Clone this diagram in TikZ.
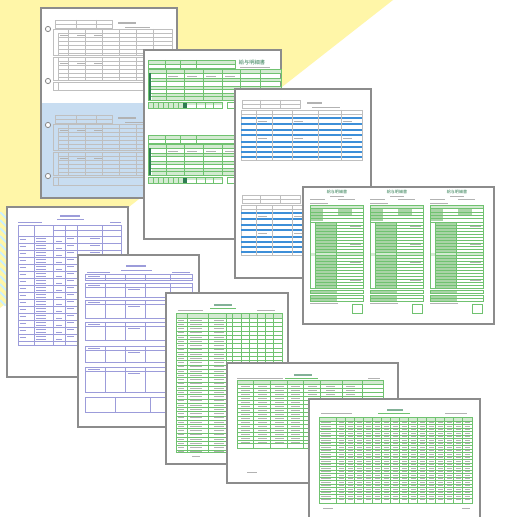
\documentclass[tikz,border=0pt]{standalone}
\usepackage{fontspec}
\newfontfamily\cjk{Noto Sans CJK JP}
\definecolor{amarillo}{HTML}{FFF6A8}
\definecolor{celeste}{HTML}{C8DDF1}
\definecolor{azul}{HTML}{3D8FD8}
\definecolor{verdeclaro}{HTML}{D3EAD1}
\definecolor{verde}{HTML}{A9D4A6}
\definecolor{verdeosc}{HTML}{2F7D52}
\definecolor{lila}{HTML}{9C9CDA}
\definecolor{borde}{HTML}{8C8C8C}
\tikzset{
  hoja/.style={fill=white, draw=borde, line width=0.75pt},
  regla/.style={draw=gray!50, line width=0.15pt},
  rverde/.style={draw=green!40!gray!80, line width=0.15pt},
  rlila/.style={draw=lila, line width=0.2pt},
  dato/.style={draw=gray!60, line width=0.35pt},
  titulo/.style={inner sep=0pt, text=verdeosc},
}
\begin{document}
\begin{tikzpicture}[x=0.02cm,y=-0.02cm]
  \useasboundingbox (0,0) rectangle (509,517);
  % Fondo
  \fill[white] (0,0) rectangle (509,517);
  \fill[amarillo] (0,0) -- (393,0) -- (0,308) -- cycle;
  \begin{scope}
    \clip (0,212) rectangle (8,305);
    \foreach \y in {196,204,...,300} \draw[cyan!20, line width=1.1pt] (0,\y) -- (14,\y+14);
  \end{scope}

  % Primera hoja (dos formularios, uno azul)
  \draw[hoja] (41,8) rectangle (177,198);
  \fill[celeste] (41,103) rectangle (177,198);
  \draw[borde, line width=0.75pt] (41,8) rectangle (177,198);
  \foreach \y in {29,81,125,176} \draw[borde, fill=white, line width=0.5pt] (48,\y) circle (2.6);
  \foreach \d in {0,95} {
    \begin{scope}[shift={(0,\d)}]
      \draw[regla] (55,20) rectangle (112,28);
      \draw[regla] (55,24) -- (112,24) (76,20) -- (76,28) (96,20) -- (96,28);
      \draw[dato, line width=0.6pt] (118,23) -- (136,23);
      \draw[dato] (125,27) -- (150,27);
      % Tablas
      \draw[regla] (53,29) rectangle (172,55);
      \foreach \y in {33,37,...,53} \draw[regla] (58,\y) -- (172,\y);
      \foreach \x in {68,85,102,119,136,153} \draw[regla] (\x,29) -- (\x,55);
      \draw[regla] (58,33) -- (58,55);
      \draw[regla] (53,57) rectangle (172,80);
      \foreach \y in {61,65,...,77} \draw[regla] (58,\y) -- (172,\y);
      \foreach \x in {68,85,102,119,136,153} \draw[regla] (\x,57) -- (\x,80);
      \draw[regla] (58,57) -- (58,80);
      \draw[regla] (53,82) rectangle (172,90);
      \draw[regla] (58,82) -- (58,90);
      \foreach \x in {60,77,94} {
        \draw[dato] (\x,35) -- (\x+8,35);
        \draw[dato] (\x,63) -- (\x+8,63);
      }
    \end{scope}
  }

  % Segunda hoja (verde)
  \draw[hoja] (144,50) rectangle (281,239);
  \node[titulo, font=\cjk\fontsize{3}{3}\selectfont] (tituloB) at (252,63) {給与明細書};
  \draw[dato] (240,67) -- (270,67);
  \foreach \d in {0,75} {
    \begin{scope}[shift={(0,\d)}]
      \fill[verdeclaro] (148,60) rectangle (235,64);
      \draw[rverde] (148,60) rectangle (235,68);
      \draw[rverde] (148,64) -- (235,64);
      \foreach \x in {165,180,196} \draw[rverde] (\x,60) -- (\x,68);
      \fill[verdeclaro] (148,69) rectangle (281,73);
      \fill[verdeclaro] (152,78) rectangle (281,81);
      \fill[verdeclaro] (148,86) rectangle (281,89);
      \fill[verdeclaro] (152,93) rectangle (281,100);
      \fill[verdeosc] (148,73) rectangle (151,100);
      \draw[rverde] (148,69) rectangle (281,100);
      \foreach \y in {73,78,81,86,89,93,96.5} \draw[rverde] (151,\y) -- (281,\y);
      \foreach \x in {166,184,203,222,240,260} \draw[rverde] (\x,69) -- (\x,100);
      \fill[verdeclaro] (148,102) rectangle (183,108);
      \fill[verdeosc] (183,102) rectangle (187,108);
      \fill[verdeclaro] (187,102) rectangle (222,105);
      \draw[rverde] (148,102) rectangle (222,108);
      \foreach \x in {153,158,163,168,173,178,196,205,213} \draw[rverde] (\x,102) -- (\x,108);
      \draw[rverde] (227,102) rectangle (235,108);
      \foreach \x in {168,187,206,225} \draw[dato] (\x,76) -- (\x+10,76);
    \end{scope}
  }

  % Tercera hoja (franjas azules)
  \draw[hoja] (235,89) rectangle (371,278);
  \foreach \d in {0,95} {
    \begin{scope}[shift={(0,\d)}]
      \draw[regla] (242,100) rectangle (300,108);
      \draw[regla] (242,104) -- (300,104) (260,100) -- (260,108) (280,100) -- (280,108);
      \draw[dato, line width=0.6pt] (307,103) -- (322,103);
      \draw[dato] (312,107) -- (340,107);
      \draw[regla] (241,110) rectangle (362,160);
      \draw[regla] (241,114) -- (362,114);
      \foreach \y in {117,123,129,134,141,146,151,156} \fill[azul] (241,\y) rectangle (362,\y+2);
      \foreach \x in {256,272,292,318,341} \draw[regla] (\x,110) -- (\x,160);
      \foreach \x in {258,294,343} {
        \draw[dato] (\x,121) -- (\x+9,121);
        \draw[dato] (\x,138) -- (\x+9,138);
      }
    \end{scope}
  }

  % Cuarta hoja (tres recibos)
  \draw[hoja] (303,187) rectangle (494,324);
  \foreach \c/\n in {310/1,370/2,430/3} {
    \begin{scope}[shift={(\c,0)}]
      \node[titulo, font=\cjk\fontsize{2.3}{2.3}\selectfont] (tituloD\n) at (27,192) {給与明細書};
      \draw[dato] (20,196) -- (34,196);
      \draw[dato] (0,199.5) -- (15,199.5) (28,199.5) -- (45,199.5) (0,203) -- (18,203);
      \fill[verdeclaro] (0,205) rectangle (53,208.5);
      \fill[verde] (0,209) rectangle (13,221);
      \fill[verde] (28,209) rectangle (42,216);
      \draw[rverde] (0,205) rectangle (53,222);
      \foreach \y in {208.5,212,215,218} \draw[rverde] (0,\y) -- (53,\y);
      \fill[verde] (5,222) rectangle (26,288);
      \fill[verdeclaro] (0,253) rectangle (53,256);
      \draw[rverde] (0,222) rectangle (53,288);
      \foreach \y in {225,228,...,286} \draw[rverde] (5,\y) -- (53,\y);
      \draw[rverde] (5,222) -- (5,288) (26,222) -- (26,288);
      \foreach \y in {226,244,262,280} \draw[dato] (40,\y) -- (51,\y);
      \foreach \y in {290,295,298.5} {
        \fill[verde] (0,\y) rectangle (27,\y+3);
        \draw[rverde] (0,\y) rectangle (53,\y+3);
      }
      \draw[dato] (0,303) -- (28,303);
      \draw[rverde] (42,304) rectangle (52,313);
    \end{scope}
  }

  % Quinta hoja (lista)
  \draw[hoja] (7,207) rectangle (128,377);
  \draw[lila, line width=0.8pt] (60,216) -- (80,216);
  \draw[rlila] (57,219.5) -- (84,219.5);
  \draw[rlila, line width=0.5pt] (18,222) -- (42,222) (110,222) -- (121,222);
  \draw[rlila] (18,225) rectangle (121,345);
  \draw[rlila] (53,230) -- (121,230) (18,236) -- (121,236);
  \foreach \y in {243,250,...,341} {
    \draw[rlila] (18,\y) -- (121,\y);
    \draw[rlila, line width=0.5pt] (36,\y-4.8) -- (46,\y-4.8) (36,\y-2) -- (46,\y-2);
    \draw[rlila, line width=0.5pt] (20,\y-4) -- (26,\y-4) (56,\y-2) -- (62,\y-2);
    \draw[rlila, line width=0.5pt] (67,\y-4.8) -- (74,\y-4.8) (90,\y-4.8) -- (100,\y-4.8);
  }
  \foreach \x in {34,53,65,77,102} \draw[rlila] (\x,225) -- (\x,345);

  % Sexta hoja (formulario lila)
  \draw[hoja] (78,255) rectangle (199,427);
  \draw[lila, line width=0.8pt] (126,266) -- (146,266);
  \draw[rlila] (121,270) -- (152,270);
  \draw[rlila, line width=0.5pt] (87,272) -- (110,272) (172,272) -- (190,272);
  \foreach \a/\b in {274/280, 283/297, 300/318, 322/340, 346/362, 367/392} {
    \draw[rlila] (85,\a) rectangle (192,\b);
    \draw[rlila] (85,\a+4) -- (192,\a+4);
    \foreach \x in {105,125,145,170} \draw[rlila] (\x,\a) -- (\x,\b);
    \draw[rlila, line width=0.5pt] (88,\a+2) -- (100,\a+2) (128,\a+6.5) -- (140,\a+6.5);
  }
  \draw[rlila] (85,397) rectangle (192,412);
  \draw[rlila] (115,397) -- (115,412) (150,397) -- (150,412);

  % Septima hoja (tabla verde)
  \draw[hoja] (166,293) rectangle (288,464);
  \draw[verdeosc!60, line width=0.8pt] (214,305) -- (232,305);
  \draw[rverde] (210,308) -- (236,308);
  \draw[dato] (178,310) -- (203,310) (257,310) -- (275,310);
  \fill[verdeclaro] (176,313) rectangle (282,318);
  \draw[rverde] (176,313) rectangle (282,452);
  \foreach \y in {318,322.25,...,450} {
    \draw[rverde] (176,\y) -- (282,\y);
    \draw[dato] (178,\y+2) -- (184,\y+2) (190,\y+2) -- (202,\y+2) (214,\y+2) -- (224,\y+2);
  }
  \foreach \x in {187,208,226,232,241,249,257,265,273} \draw[rverde] (\x,313) -- (\x,452);
  \draw[dato] (192,456) -- (200,456);

  % Octava hoja (tabla)
  \draw[hoja] (227,363) rectangle (398,483);
  \draw[verdeosc!60, line width=0.8pt] (294,375) -- (312,375);
  \draw[rverde] (285,378) -- (318,378);
  \draw[dato] (237,378) -- (283,378) (368,378) -- (380,378);
  \fill[verdeclaro] (237,380) rectangle (383,384);
  \draw[rverde] (237,380) rectangle (383,448);
  \foreach \y in {384,388,...,440} {
    \draw[rverde] (237,\y) -- (383,\y);
    \foreach \x in {241,258,275,291,308,326,346} \draw[dato] (\x,\y+2) -- (\x+9,\y+2);
  }
  \draw[rverde] (237,443) -- (383,443);
  \foreach \x in {253,270,287,303,320,342,362} \draw[rverde] (\x,380) -- (\x,448);
  \draw[dato] (247,472) -- (257,472);

  % Novena hoja (tabla grande)
  \draw[hoja] (309,399) rectangle (480,522);
  \draw[verdeosc!60, line width=0.8pt] (387,410) -- (403,410);
  \draw[rverde] (378,413) -- (410,413);
  \draw[dato] (321,413) -- (352,413) (445,413) -- (467,413);
  \fill[verdeclaro] (319,417) rectangle (472,421);
  \draw[rverde] (319,417) rectangle (472,503);
  \foreach \y in {421,424.5,...,500} {
    \draw[rverde] (319,\y) -- (472,\y);
    \draw[dato] (321,\y+1.8) -- (331,\y+1.8);
    \foreach \x in {336,345,354,363,372,381,390,399,408,417,426,435,444,453,462} \draw[dato] (\x+3,\y+1.8) -- (\x+8,\y+1.8);
  }
  \foreach \x in {336,345,354,363,372,381,390,399,408,417,426,435,444,453,462} \draw[rverde] (\x,417) -- (\x,503);
  \draw[dato] (323,508) -- (333,508) (462,508) -- (470,508);
\end{tikzpicture}
\end{document}
